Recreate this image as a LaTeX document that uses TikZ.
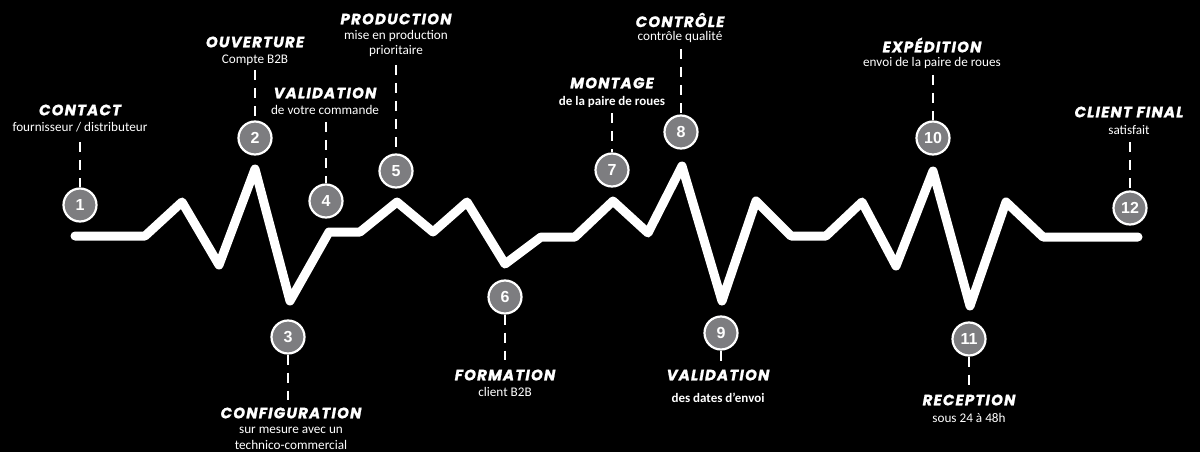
\documentclass[tikz,border=0pt]{standalone}
\usepackage{fontspec}
\setmainfont{Carlito}
\newfontfamily\titlefont[BoldItalicFeatures={FakeBold=1.2,LetterSpace=8}]{Poppins}
\newfontfamily\numfont{Liberation Sans}
\definecolor{numgray}{RGB}{125,125,128}
\tikzset{
  wave/.style={white,line width=9pt,line join=round,line cap=round},
  numc/.style={circle,fill=numgray,draw=white,line width=2.2pt,minimum size=33pt,inner sep=0pt,text=white,font=\numfont\bfseries\fontsize{16}{16}\selectfont},
  ttl/.style={text=white,inner sep=0pt,font=\titlefont\bfseries\itshape\fontsize{15}{15}\selectfont},
  sub/.style={text=white,inner sep=0pt,align=center,font=\fontsize{13.2}{15.5}\selectfont},
  subb/.style={text=white,inner sep=0pt,align=center,font=\bfseries\fontsize{13}{16}\selectfont},
  dashl/.style={white,line width=1.8pt,dash pattern=on 10pt off 8pt},
}
\begin{document}
\begin{tikzpicture}[x=1pt,y=-1pt]
\fill[black] (0,0) rectangle (1200,452);
\useasboundingbox (0,0) rectangle (1200,452);
% wave
\draw[wave] (75,236) -- (145,236) -- (182,202) -- (219,265) -- (255,169) -- (290,301)
  -- (329,232) -- (360,232) -- (397,202) -- (433,232) -- (467,202) -- (505,264)
  -- (541,237) -- (575,237) -- (613,201) -- (648,233) -- (682,166) -- (722,301)
  -- (756,201) -- (791,236) -- (826,236) -- (862,202) -- (896,266) -- (933,171)
  -- (970,306) -- (1006,202) -- (1043,237) -- (1138,237);
% circles
\node[numc] (c1) at (80,205) {1};
\node[numc] (c2) at (255,138) {2};
\node[numc] (c3) at (288,337) {3};
\node[numc] (c4) at (326,201) {4};
\node[numc] (c5) at (396,171) {5};
\node[numc] (c6) at (505,297) {6};
\node[numc] (c7) at (612,170) {7};
\node[numc] (c8) at (681,132) {8};
\node[numc] (c9) at (721,333) {9};
\node[numc] (c10) at (933,138) {10};
\node[numc] (c11) at (969,339) {11};
\node[numc] (c12) at (1130,208) {12};
% titles
\node[ttl] (t1) at (80,110) {CONTACT};
\node[sub] (s1) at (80,127) {fournisseur / distributeur};
\node[ttl] (t2) at (255,42) {OUVERTURE};
\node[sub] (s2) at (255,60) {Compte B2B};
\node[ttl] (t3) at (291,413) {CONFIGURATION};
\node[sub,anchor=north] (s3) at (291,427) {sur mesure avec un\\technico-commercial};
\node[ttl] (t4) at (325,93) {VALIDATION};
\node[sub] (s4) at (325,110) {de votre commande};
\node[ttl] (t5) at (396,19) {PRODUCTION};
\node[sub,anchor=north] (s5) at (396,30) {mise en production\\prioritaire};
\node[ttl] (t6) at (505,375) {FORMATION};
\node[sub] (s6) at (505,392) {client B2B};
\node[ttl] (t7) at (612,83) {MONTAGE};
\node[subb] (s7) at (612,102) {de la paire de roues};
\node[ttl] (t8) at (680,20) {CONTRÔLE};
\node[sub] (s8) at (680,37) {contrôle qualité};
\node[ttl] (t9) at (718,375) {VALIDATION};
\node[subb] (s9) at (718,398) {des dates d’envoi};
\node[ttl] (t10) at (932,45) {EXPÉDITION};
\node[sub] (s10) at (932,63) {envoi de la paire de roues};
\node[ttl] (t11) at (969,400) {RECEPTION};
\node[sub] (s11) at (969,418) {sous 24 à 48h};
\node[ttl] (t12) at (1129,112) {CLIENT FINAL};
\node[sub] (s12) at (1129,130) {satisfait};
% dash ends
\coordinate (d1) at (80,142);
\coordinate (d2) at (255,70);
\coordinate (d3) at (288,400);
\coordinate (d4) at (326,122);
\coordinate (d5) at (396,65);
\coordinate (d6) at (505,360);
\coordinate (d7) at (612,113);
\coordinate (d8) at (681,49);
\coordinate (d9) at (721,362);
\coordinate (d10) at (933,75);
\coordinate (d11) at (969,385);
\coordinate (d12) at (1130,142);
\foreach \i in {1,2,4,5,7,8,10,12} {\draw[dashl] (d\i) -- (c\i.north);}
\foreach \i in {3,6,9,11} {\draw[dashl] (c\i.south) -- (d\i);}
\end{tikzpicture}
\end{document}
